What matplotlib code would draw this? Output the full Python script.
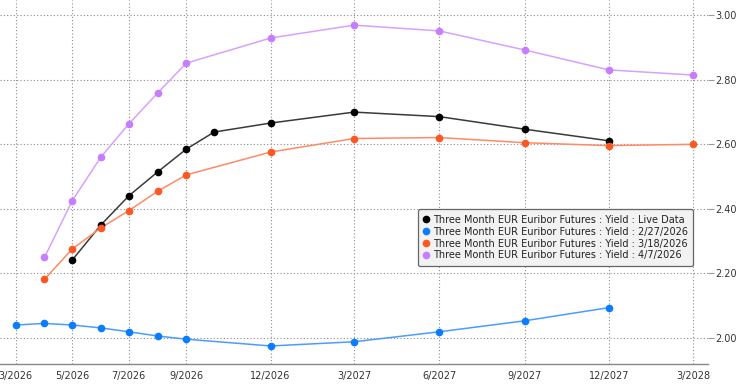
import matplotlib
matplotlib.use("Agg")
import matplotlib.pyplot as plt
from datetime import date

# ---- data ----
months_all = ["2026-03", "2026-04", "2026-05", "2026-06", "2026-07", "2026-08",
              "2026-09", "2026-12", "2027-03", "2027-06", "2027-09", "2027-12", "2028-03"]

blue_months = months_all[:12]
blue_vals = [2.039, 2.044, 2.039, 2.030, 2.018, 2.005, 1.995, 1.974, 1.987, 2.018, 2.052, 2.093]

red_months = months_all[1:]
red_vals = [2.181, 2.275, 2.341, 2.394, 2.454, 2.505, 2.576, 2.618, 2.621, 2.605, 2.596, 2.600]

purple_months = months_all[1:]
purple_vals = [2.249, 2.425, 2.561, 2.663, 2.759, 2.852, 2.930, 2.970, 2.952, 2.893, 2.831, 2.815]

black_months = ["2026-05", "2026-06", "2026-07", "2026-08", "2026-09", "2026-10",
                "2026-12", "2027-03", "2027-06", "2027-09", "2027-12"]
black_vals = [2.241, 2.350, 2.440, 2.514, 2.585, 2.638, 2.666, 2.700, 2.686, 2.647, 2.611]

series_labels = [
    "Three Month EUR Euribor Futures : Yield : Live Data",
    "Three Month EUR Euribor Futures : Yield : 2/27/2026",
    "Three Month EUR Euribor Futures : Yield : 3/18/2026",
    "Three Month EUR Euribor Futures : Yield : 4/7/2026",
]

xtick_months = ["2026-03", "2026-05", "2026-07", "2026-09", "2026-12",
                "2027-03", "2027-06", "2027-09", "2027-12", "2028-03"]
xtick_labels = ["3/2026", "5/2026", "7/2026", "9/2026", "12/2026",
                "3/2027", "6/2027", "9/2027", "12/2027", "3/2028"]
ytick_vals = [2.00, 2.20, 2.40, 2.60, 2.80, 3.00]


def to_dates(ms):
    return [date(int(m[:4]), int(m[5:]), 1) for m in ms]


fig = plt.figure(figsize=(7.36, 3.90), dpi=100)
ax = fig.add_axes([0.0, 26 / 390, 708 / 736, 364 / 390])

styles = [
    (black_months, black_vals, "#000000", "#3a3a3a"),
    (blue_months, blue_vals, "#0a7cff", "#4a9dff"),
    (red_months, red_vals, "#ff5722", "#ff8a66"),
    (purple_months, purple_vals, "#c77dff", "#d7a1ff"),
]
handles = []
for (ms, vals, mc, lc), lab in zip(styles, series_labels):
    xs = to_dates(ms)
    ax.plot(xs, vals, color=lc, lw=1.1, zorder=3)
    ax.plot(xs, vals, ls="none", marker="o", ms=4.5, color=mc, zorder=4)
    h, = ax.plot([], [], ls="none", marker="o", ms=4.5, color=mc, label=lab)
    handles.append(h)

ax.set_xlim(date(2026, 2, 12), date(2028, 3, 17))
ax.set_ylim(1.918, 3.048)

ax.set_xticks(to_dates(xtick_months))
ax.set_xticklabels(xtick_labels)
ax.set_yticks(ytick_vals)
ax.set_yticklabels([f"{v:.2f}" for v in ytick_vals])

ax.yaxis.tick_right()
ax.tick_params(axis="y", length=4, width=0.8, color="#999999", pad=1,
               labelsize=7, labelcolor="#333333")
ax.tick_params(axis="x", length=0, pad=5, labelsize=7, labelcolor="#333333")
for t in ax.yaxis.get_ticklines():
    t.set_linestyle((0, (1, 2)))

ax.grid(True, which="major", color="#8c8c8c", ls=(0, (1, 2)), lw=0.8, zorder=1)

for s in ["top", "right", "left"]:
    ax.spines[s].set_visible(False)
ax.spines["bottom"].set_color("#888888")
ax.spines["bottom"].set_linewidth(1.0)

leg = ax.legend(handles=handles, loc="upper right", bbox_to_anchor=(0.979, 0.425),
                fontsize=7, frameon=True, fancybox=True, handlelength=0.6,
                handletextpad=0.4, borderpad=0.55, labelspacing=0.2,
                borderaxespad=0)
leg.get_frame().set_facecolor("#f2f2f2")
leg.get_frame().set_edgecolor("#666666")
leg.get_frame().set_linewidth(0.9)
leg.get_frame().set_alpha(1)
for t in leg.get_texts():
    t.set_color("#222222")
leg.set_zorder(5)

fig.savefig("out.png", dpi=100)
